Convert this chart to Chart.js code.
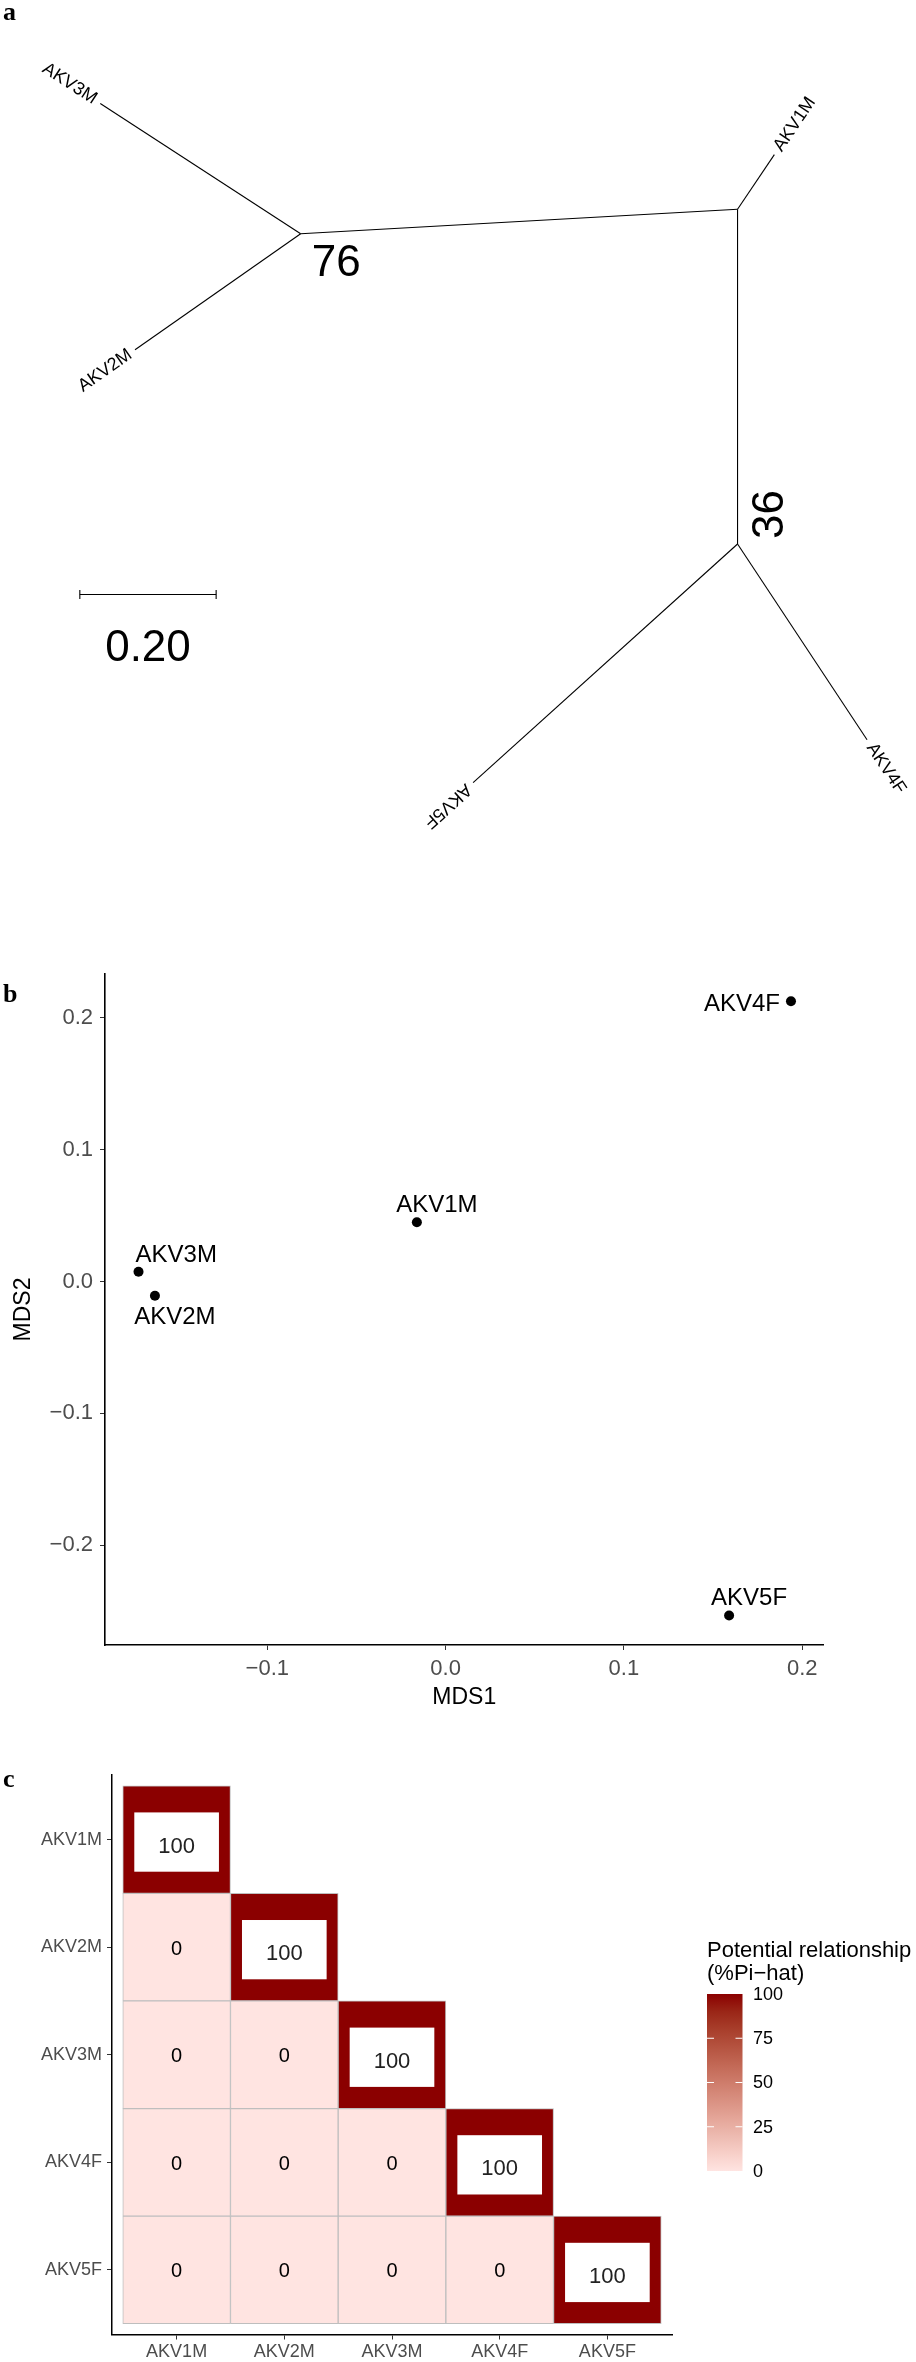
<!DOCTYPE html>
<html>
<head>
<meta charset="utf-8">
<script src="https://cdn.jsdelivr.net/npm/chart.js@4.4.1/dist/chart.umd.min.js"></script>
<style>
  html, body { margin: 0; padding: 0; background: #fff; }
  #wrap { position: relative; width: 916px; height: 2362px; }
  canvas { position: absolute; left: 0; }
</style>
</head>
<body>
<div id="wrap">
  <canvas id="treeChart" width="916" height="960" style="top:0"></canvas>
  <canvas id="mdsChart" width="916" height="770" style="top:960px"></canvas>
  <canvas id="ibdChart" width="916" height="632" style="top:1730px"></canvas>
</div>
<script>
// ---- a: unrooted tree (coordinates in substitutions/site, centre node at 0,0)
const tipLabels = ['AKV1M', 'AKV2M', 'AKV3M', 'AKV4F', 'AKV5F'];
const tipX = [0.054, -0.884, -0.935, 0.190, -0.388];
const tipY = [0.080, -0.206, 0.155, -0.778, -0.841];
const tipParent = [1, 0, 0, 2, 2];
const nodeX = [-0.641, 0.000, 0.000];
const nodeY = [-0.036, 0.000, -0.491];
const nodeParent = [1, -1, 1];
const nodeSupport = ['76', '', '36'];
const scaleBarLength = 0.20;

// ---- b: MDS
const samples = ['AKV1M', 'AKV2M', 'AKV3M', 'AKV4F', 'AKV5F'];
const mds1 = [-0.0161, -0.1630, -0.1722, 0.1937, 0.1590];
const mds2 = [0.0449, -0.0108, 0.0073, 0.2123, -0.2531];
const mdsTicksX = [-0.1, 0.0, 0.1, 0.2];
const mdsTicksY = [-0.2, -0.1, 0.0, 0.1, 0.2];

// ---- c: relatedness (lower triangle, %Pi-hat)
const ibdIds = ['AKV1M', 'AKV2M', 'AKV3M', 'AKV4F', 'AKV5F'];
const piHat = [
  [100],
  [0, 100],
  [0, 0, 100],
  [0, 0, 0, 100],
  [0, 0, 0, 0, 100]
];
const legendTicks = [0, 25, 50, 75, 100];

Chart.defaults.font.family = "'Liberation Sans', Arial, sans-serif";
Chart.defaults.color = '#000';

// colour ramp mistyrose -> darkred in CIELAB (like ggplot)
function hexToRgb(h) { return [1, 3, 5].map(i => parseInt(h.slice(i, i + 2), 16)); }
function toLin(c) { c /= 255; return c <= 0.04045 ? c / 12.92 : Math.pow((c + 0.055) / 1.055, 2.4); }
function fromLin(c) {
  c = c <= 0.0031308 ? 12.92 * c : 1.055 * Math.pow(c, 1 / 2.4) - 0.055;
  return Math.round(Math.max(0, Math.min(1, c)) * 255);
}
function rgbToLab(rgb) {
  const [r, g, b] = rgb.map(toLin);
  const x = (r * 0.4124 + g * 0.3576 + b * 0.1805) / 0.95047;
  const y = r * 0.2126 + g * 0.7152 + b * 0.0722;
  const z = (r * 0.0193 + g * 0.1192 + b * 0.9505) / 1.08883;
  const f = t => t > 0.008856 ? Math.cbrt(t) : 7.787 * t + 16 / 116;
  return [116 * f(y) - 16, 500 * (f(x) - f(y)), 200 * (f(y) - f(z))];
}
function labToRgb(lab) {
  const fy = (lab[0] + 16) / 116, fx = fy + lab[1] / 500, fz = fy - lab[2] / 200;
  const fi = t => t * t * t > 0.008856 ? t * t * t : (t - 16 / 116) / 7.787;
  const x = fi(fx) * 0.95047, y = fi(fy), z = fi(fz) * 1.08883;
  return [
    x * 3.2406 - y * 1.5372 - z * 0.4986,
    -x * 0.9689 + y * 1.8758 + z * 0.0415,
    x * 0.0557 - y * 0.2040 + z * 1.0570
  ].map(fromLin);
}
const lowLab = rgbToLab(hexToRgb('#FFE4E1'));
const highLab = rgbToLab(hexToRgb('#8B0000'));
function fillColor(v) {
  const t = v / 100;
  const rgb = labToRgb(lowLab.map((l, i) => l + (highLab[i] - l) * t));
  return 'rgb(' + rgb.join(',') + ')';
}

function panelLetter(ctx, letter, y) {
  ctx.save();
  ctx.font = "bold 26px 'Liberation Serif', 'Times New Roman', serif";
  ctx.fillStyle = '#000';
  ctx.textAlign = 'left';
  ctx.textBaseline = 'alphabetic';
  ctx.fillText(letter, 3, y);
  ctx.restore();
}

// force axis box sizes so the plot area sits where the figure has it
function fixBox(size) {
  return function (scale) {
    if (scale.isHorizontal()) scale.height = size; else scale.width = size;
    scale.paddingTop = scale.paddingBottom = scale.paddingLeft = scale.paddingRight = 0;
  };
}
function minusFmt(v) {
  return (v < -1e-9 ? '\u2212' : '') + Math.abs(v).toFixed(1);
}

// ================= a =================
var branches = [];
tipLabels.forEach(function (t, i) {
  var p = tipParent[i];
  branches.push([{x: nodeX[p], y: nodeY[p]}, {x: tipX[i], y: tipY[i]}]);
});
nodeParent.forEach(function (p, i) {
  if (p >= 0) branches.push([{x: nodeX[p], y: nodeY[p]}, {x: nodeX[i], y: nodeY[i]}]);
});
var scaleBarAt = {x: -0.965, y: -0.565};
var flipLabel = [false, true, true, false, false];

var treeDatasets = branches.map(function (b) {
  return {data: b, showLine: true, borderColor: '#000', borderWidth: 1.1, pointRadius: 0};
});
treeDatasets.push({
  data: [{x: scaleBarAt.x, y: scaleBarAt.y}, {x: scaleBarAt.x + scaleBarLength, y: scaleBarAt.y}],
  showLine: true, borderColor: '#000', borderWidth: 1.1,
  pointStyle: 'line', pointRotation: 90, pointRadius: 4.5,
  pointBorderColor: '#000', pointBorderWidth: 1.1
});

var treeText = {
  id: 'treeText',
  afterDatasetsDraw: function (chart) {
    var ctx = chart.ctx, x = chart.scales.x, y = chart.scales.y;
    ctx.save();
    ctx.fillStyle = '#000';
    ctx.font = "18px 'Liberation Sans', Arial, sans-serif";
    ctx.textBaseline = 'middle';
    tipLabels.forEach(function (name, i) {
      var p = tipParent[i];
      var tx = x.getPixelForValue(tipX[i]), ty = y.getPixelForValue(tipY[i]);
      var px = x.getPixelForValue(nodeX[p]), py = y.getPixelForValue(nodeY[p]);
      var ang = Math.atan2(ty - py, tx - px);
      ctx.save();
      ctx.translate(tx + 6 * Math.cos(ang), ty + 6 * Math.sin(ang));
      if (flipLabel[i]) { ctx.rotate(ang + Math.PI); ctx.textAlign = 'right'; }
      else { ctx.rotate(ang); ctx.textAlign = 'left'; }
      ctx.fillText(name, 0, 0);
      ctx.restore();
    });

    ctx.font = "44px 'Liberation Sans', Arial, sans-serif";
    ctx.textBaseline = 'alphabetic';
    ctx.textAlign = 'left';
    // bootstrap support
    var n0x = x.getPixelForValue(nodeX[0]), n0y = y.getPixelForValue(nodeY[0]);
    ctx.fillText(nodeSupport[0], n0x + 11, n0y + 42);
    var n2x = x.getPixelForValue(nodeX[2]), n2y = y.getPixelForValue(nodeY[2]);
    ctx.save();
    ctx.translate(n2x + 45, n2y - 5);
    ctx.rotate(-Math.PI / 2);
    ctx.fillText(nodeSupport[2], 0, 0);
    ctx.restore();

    // scale bar label
    ctx.textAlign = 'center';
    var sx = (x.getPixelForValue(scaleBarAt.x) + x.getPixelForValue(scaleBarAt.x + scaleBarLength)) / 2;
    ctx.fillText(scaleBarLength.toFixed(2), sx, y.getPixelForValue(scaleBarAt.y) + 67);
    ctx.restore();
    panelLetter(ctx, 'a', 20);
  }
};

new Chart(document.getElementById('treeChart'), {
  type: 'scatter',
  data: {datasets: treeDatasets},
  options: {
    responsive: false, animation: false, events: [],
    layout: {padding: 0},
    plugins: {legend: {display: false}, tooltip: {enabled: false}},
    scales: {
      x: {type: 'linear', display: false, min: -1.0739, max: 0.2536},
      y: {type: 'linear', display: false, min: -1.0928, max: 0.2986}
    }
  },
  plugins: [treeText]
});

// ================= b =================
var labelPlace = {
  AKV1M: {dx: 20, dy: -10, align: 'center'},
  AKV2M: {dx: 20, dy: 28, align: 'center'},
  AKV3M: {dx: -3, dy: -10, align: 'left'},
  AKV4F: {dx: -11, dy: 10, align: 'right'},
  AKV5F: {dx: 20, dy: -10, align: 'center'}
};
var mdsText = {
  id: 'mdsText',
  afterDatasetsDraw: function (chart) {
    var ctx = chart.ctx, x = chart.scales.x, y = chart.scales.y;
    ctx.save();
    ctx.fillStyle = '#000';
    ctx.font = "24px 'Liberation Sans', Arial, sans-serif";
    ctx.textBaseline = 'alphabetic';
    samples.forEach(function (s, i) {
      var pl = labelPlace[s];
      ctx.textAlign = pl.align;
      ctx.fillText(s, x.getPixelForValue(mds1[i]) + pl.dx, y.getPixelForValue(mds2[i]) + pl.dy);
    });
    ctx.restore();
    panelLetter(ctx, 'b', 42);
  }
};

new Chart(document.getElementById('mdsChart'), {
  type: 'scatter',
  data: {
    datasets: [{
      data: samples.map(function (s, i) { return {x: mds1[i], y: mds2[i]}; }),
      pointRadius: 5, pointBackgroundColor: '#000', pointBorderColor: '#000', pointBorderWidth: 0
    }]
  },
  options: {
    responsive: false, animation: false, events: [],
    layout: {padding: {left: 0, top: 14, right: 92.4, bottom: 0}},
    plugins: {legend: {display: false}, tooltip: {enabled: false}},
    scales: {
      x: {
        type: 'linear', min: -0.191, max: 0.212,
        afterBuildTicks: function (s) { s.ticks = mdsTicksX.map(function (v) { return {value: v}; }); },
        afterFit: fixBox(85),
        border: {display: true, color: '#000', width: 1.6},
        grid: {drawOnChartArea: false, drawTicks: true, tickLength: 5, color: '#333', lineWidth: 1},
        ticks: {callback: minusFmt, color: '#4d4d4d', font: {size: 22}, padding: 6, maxRotation: 0},
        title: {display: true, text: 'MDS1', color: '#000', font: {size: 23}, padding: {top: 0, bottom: 19}}
      },
      y: {
        type: 'linear', min: -0.2755, max: 0.233,
        afterBuildTicks: function (s) { s.ticks = mdsTicksY.map(function (v) { return {value: v}; }); },
        afterFit: fixBox(105),
        border: {display: true, color: '#000', width: 1.6},
        grid: {drawOnChartArea: false, drawTicks: true, tickLength: 5, color: '#333', lineWidth: 1},
        ticks: {callback: minusFmt, color: '#4d4d4d', font: {size: 22}, padding: 7},
        title: {display: true, text: 'MDS2', color: '#000', font: {size: 23}, padding: {top: 10, bottom: 0}}
      }
    }
  },
  plugins: [mdsText]
});

// ================= c =================
var cells = [];
piHat.forEach(function (row, r) {
  row.forEach(function (v, c) {
    cells.push({x: c + 0.5, y: [r, r + 1], v: v});
  });
});
var cellTicks = ibdIds.map(function (id, i) { return {value: i + 0.5}; });

var ibdText = {
  id: 'ibdText',
  afterDatasetsDraw: function (chart) {
    var ctx = chart.ctx, x = chart.scales.x, y = chart.scales.y;
    var cw = x.getPixelForValue(1) - x.getPixelForValue(0);
    var ch = Math.abs(y.getPixelForValue(1) - y.getPixelForValue(0));
    ctx.save();
    ctx.textAlign = 'center';
    ctx.textBaseline = 'middle';
    cells.forEach(function (cell) {
      var cx = x.getPixelForValue(cell.x);
      var cy = y.getPixelForValue(cell.y[0] + 0.5);
      if (cell.v > 0) {
        var bw = cw * 0.786, bh = ch * 0.551;
        ctx.fillStyle = '#fff';
        ctx.fillRect(cx - bw / 2, cy + 2.5 - bh / 2, bw, bh);
        ctx.fillStyle = '#222';
        ctx.font = "22px 'Liberation Sans', Arial, sans-serif";
        ctx.fillText(String(cell.v), cx, cy + 7);
      } else {
        ctx.fillStyle = '#000';
        ctx.font = "20px 'Liberation Sans', Arial, sans-serif";
        ctx.fillText(String(cell.v), cx, cy + 2);
      }
    });

    // colour bar legend
    var lx = 707, top = 264, bh2 = 177, bw2 = 35.5;
    ctx.fillStyle = '#000';
    ctx.textAlign = 'left';
    ctx.textBaseline = 'alphabetic';
    ctx.font = "22px 'Liberation Sans', Arial, sans-serif";
    ctx.fillText('Potential relationship', lx, 227);
    ctx.fillText('(%Pi\u2212hat)', lx, 250);
    var grad = ctx.createLinearGradient(0, top + bh2, 0, top);
    for (var i = 0; i <= 10; i++) grad.addColorStop(i / 10, fillColor(i * 10));
    ctx.fillStyle = grad;
    ctx.fillRect(lx, top, bw2, bh2);
    ctx.strokeStyle = '#fff';
    ctx.lineWidth = 1;
    ctx.font = "18px 'Liberation Sans', Arial, sans-serif";
    ctx.textBaseline = 'middle';
    legendTicks.forEach(function (t) {
      var ty = top + bh2 - t / 100 * bh2;
      if (t > 0 && t < 100) {
        ctx.beginPath();
        ctx.moveTo(lx, ty); ctx.lineTo(lx + 7, ty);
        ctx.moveTo(lx + bw2 - 7, ty); ctx.lineTo(lx + bw2, ty);
        ctx.stroke();
      }
      ctx.fillStyle = '#000';
      ctx.fillText(String(t), lx + 46, ty + 1);
    });
    ctx.restore();
    panelLetter(ctx, 'c', 57);
  }
};

new Chart(document.getElementById('ibdChart'), {
  type: 'bar',
  data: {
    datasets: [{
      data: cells,
      backgroundColor: function (c) { return c.raw ? fillColor(c.raw.v) : '#fff'; },
      borderColor: '#bebebe',
      borderWidth: 1,
      borderSkipped: false,
      barPercentage: 1,
      categoryPercentage: 1
    }]
  },
  options: {
    responsive: false, animation: false, events: [],
    layout: {padding: {left: 0, top: 45, right: 244, bottom: 0}},
    plugins: {legend: {display: false}, tooltip: {enabled: false}},
    scales: {
      x: {
        type: 'linear', min: -0.1, max: 5.1, offset: false,
        afterBuildTicks: function (s) { s.ticks = cellTicks.map(function (t) { return {value: t.value}; }); },
        afterFit: fixBox(27.5),
        border: {display: true, color: '#000', width: 1.5},
        grid: {drawOnChartArea: false, drawTicks: true, tickLength: 5, color: '#333', lineWidth: 1, offset: false},
        ticks: {callback: function (v) { return ibdIds[Math.floor(v)]; }, color: '#4d4d4d', font: {size: 18}, padding: 2, maxRotation: 0, autoSkip: false}
      },
      y: {
        type: 'linear', min: -0.1, max: 5.1, reverse: true,
        afterBuildTicks: function (s) { s.ticks = cellTicks.map(function (t) { return {value: t.value}; }); },
        afterFit: fixBox(112),
        border: {display: true, color: '#000', width: 1.5},
        grid: {drawOnChartArea: false, drawTicks: true, tickLength: 5, color: '#333', lineWidth: 1},
        ticks: {callback: function (v) { return ibdIds[Math.floor(v)]; }, color: '#4d4d4d', font: {size: 18}, padding: 5, autoSkip: false}
      }
    }
  },
  plugins: [ibdText]
});
</script>
</body>
</html>
